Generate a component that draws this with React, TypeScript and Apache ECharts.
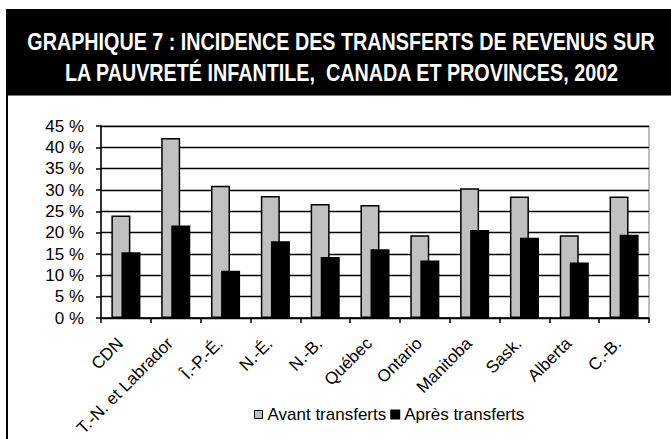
import React, { useEffect, useRef } from "react";
import * as echarts from "echarts";

const categories = [
  "CDN",
  "T.-N. et Labrador",
  "Î.-P.-É.",
  "N.-É.",
  "N.-B.",
  "Québec",
  "Ontario",
  "Manitoba",
  "Sask.",
  "Alberta",
  "C.-B.",
];
const avantTransferts = [24.0, 42.2, 31.0, 28.6, 26.7, 26.5, 19.4, 30.4, 28.5, 19.4, 28.5];
const apresTransferts = [15.4, 21.7, 11.1, 18.0, 14.3, 16.1, 13.5, 20.6, 18.8, 13.0, 19.5];
const titleLines = [
  "GRAPHIQUE 7 : INCIDENCE DES TRANSFERTS DE REVENUS SUR",
  "LA PAUVRETÉ INFANTILE,  CANADA ET PROVINCES, 2002",
];

const FONT = "'Liberation Sans', Arial, sans-serif";
const TITLE_FONT = `bold 23px 'Liberation Sans', Arial, sans-serif`;

function measure(text: string, font: string): number {
  const c = document.createElement("canvas").getContext("2d");
  if (!c) return text.length * 12;
  c.font = font;
  return c.measureText(text).width;
}

export default function App() {
  const ref = useRef<HTMLDivElement>(null);
  useEffect(() => {
    if (!ref.current) return;
    const chart = echarts.init(ref.current, null, { renderer: "svg" });
    const w1 = measure(titleLines[0], TITLE_FONT);
    const sx = w1 > 0 ? 628 / w1 : 0.8;
    chart.setOption({
      animation: false,
      backgroundColor: "#fff",
      graphic: [
        { type: "rect", shape: { x: 6, y: 9, width: 670, height: 86 }, style: { fill: "#000" } },
        { type: "line", shape: { x1: 6, y1: 95.5, x2: 671, y2: 95.5 }, style: { stroke: "#777", lineWidth: 1 } },
        { type: "line", shape: { x1: 7, y1: 95, x2: 7, y2: 445 }, style: { stroke: "#000", lineWidth: 2 } },
        {
          type: "text",
          x: 341,
          y: 42,
          scaleX: sx,
          style: {
            text: titleLines[0],
            fill: "#fff",
            font: TITLE_FONT,
            textAlign: "center",
            textVerticalAlign: "middle",
          },
        },
        {
          type: "text",
          x: 341.5,
          y: 73,
          scaleX: sx,
          style: {
            text: titleLines[1],
            fill: "#fff",
            font: TITLE_FONT,
            textAlign: "center",
            textVerticalAlign: "middle",
          },
        },
      ],
      grid: { left: 101, right: 22, top: 126, bottom: 120, show: true, borderColor: "#808080", borderWidth: 1, backgroundColor: "transparent" },
      legend: {
        top: 406,
        left: 254,
        padding: 0,
        icon: "rect",
        itemWidth: 8,
        itemHeight: 8,
        itemGap: 4,
        textStyle: { fontFamily: FONT, fontSize: 17, color: "#000" },
        data: [
          { name: "Avant transferts", itemStyle: { color: "#c0c0c0", borderColor: "#000", borderWidth: 1 } },
          { name: "Après transferts", itemStyle: { color: "#000" } },
        ],
      },
      xAxis: {
        type: "category",
        data: categories,
        axisLine: { lineStyle: { color: "#000", width: 1.5 } },
        axisTick: { show: true, length: 5, lineStyle: { color: "#000", width: 1.5 } },
        axisLabel: {
          rotate: 45,
          fontFamily: FONT,
          fontSize: 17,
          color: "#000",
          margin: 17,
          interval: 0,
          padding: [0, 8, 0, 0],
        },
      },
      yAxis: {
        type: "value",
        min: 0,
        max: 45,
        interval: 5,
        axisLine: { show: true, lineStyle: { color: "#000", width: 1.5 } },
        axisTick: { show: true, length: 5, lineStyle: { color: "#000", width: 1.5 } },
        axisLabel: { formatter: (v: number) => `${v} %`, fontFamily: FONT, fontSize: 17, color: "#000", margin: 17 },
        splitLine: { show: true, lineStyle: { color: "#000", width: 1.3 } },
      },
      series: [
        {
          name: "Avant transferts",
          type: "bar",
          data: avantTransferts,
          barWidth: 19,
          barGap: "-47%",
          itemStyle: { color: "#c0c0c0", borderColor: "#000", borderWidth: 1.5 },
        },
        {
          name: "Après transferts",
          type: "bar",
          data: apresTransferts,
          barWidth: 19,
          itemStyle: { color: "#000", borderColor: "#000", borderWidth: 1.5 },
        },
      ],
    });
    return () => chart.dispose();
  }, []);
  return <div ref={ref} style={{ position: "fixed", left: 0, top: 0, width: 671, height: 439 }} />;
}
